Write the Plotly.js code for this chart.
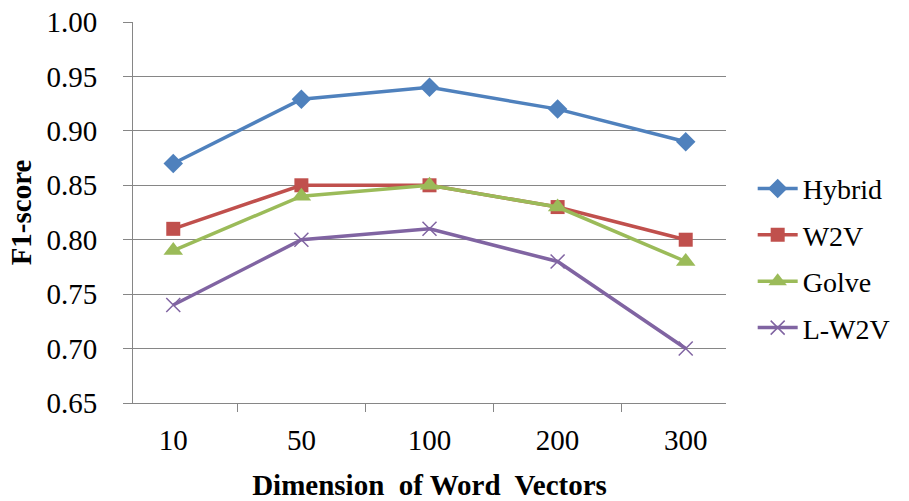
<!DOCTYPE html>
<html>
<head>
<meta charset="utf-8">
<script src="https://cdn.plot.ly/plotly-3.0.1.min.js"></script>
<style>html,body{margin:0;padding:0;background:#fff;}#chart{width:909px;height:501px;}</style>
</head>
<body>
<div id="chart"></div>
<script>
var categories = ["10", "50", "100", "200", "300"];
var seriesNames = ["Hybrid", "W2V", "Golve", "L-W2V"];
var hybrid = [0.87, 0.929, 0.94, 0.92, 0.89];
var w2v = [0.81, 0.85, 0.85, 0.83, 0.80];
var golve = [0.79, 0.84, 0.85, 0.83, 0.78];
var lw2v = [0.74, 0.80, 0.81, 0.78, 0.70];
var yTicks = [0.65, 0.70, 0.75, 0.80, 0.85, 0.90, 0.95, 1.00];

var colors = ["#4F81BD", "#C0504D", "#9BBB59", "#8064A2"];
var symbols = ["diamond", "square", "triangle-up", "x-thin"];
var sizes = [15, 14, 17, 14];
var values = [hybrid, w2v, golve, lw2v];

var traces = values.map(function (v, i) {
  return {
    type: "scatter",
    mode: "lines+markers",
    name: seriesNames[i],
    x: categories,
    y: v,
    legendgroup: "g" + i,
    line: {color: colors[i], width: 3.5},
    marker: {
      symbol: symbols[i],
      size: sizes[i],
      color: colors[i],
      line: {color: colors[i], width: i === 3 ? 1.5 : 0}
    }
  };
});

var font = "Times New Roman, Liberation Serif, DejaVu Serif, serif";
var layout = {
  width: 909,
  height: 501,
  paper_bgcolor: "#fff",
  plot_bgcolor: "#fff",
  margin: {l: 133, r: 183, t: 22, b: 98},
  font: {family: font, color: "#000", size: 29},
  showlegend: true,
  legend: {
    x: 1.045, xanchor: "left", xref: "paper",
    y: 0.38, yanchor: "middle",
    font: {family: font, size: 28, color: "#000"},
    tracegroupgap: 7,
    itemwidth: 40,
    bgcolor: "rgba(0,0,0,0)"
  },
  xaxis: {
    type: "category",
    tickvals: categories,
    ticktext: categories,
    tickson: "boundaries",
    ticks: "outside",
    ticklen: 8,
    tickcolor: "#868686",
    showline: true,
    linecolor: "#868686",
    linewidth: 1,
    showgrid: false,
    zeroline: false,
    ticklabelstandoff: 11,
    tickfont: {family: font, size: 29, color: "#000"},
    title: {text: "<b>Dimension  of Word  Vectors</b>", font: {family: font, size: 29, color: "#000"}, standoff: 20},
    automargin: false
  },
  yaxis: {
    range: [0.65, 1.0],
    tickvals: yTicks,
    tickformat: ".2f",
    ticks: "outside",
    ticklen: 9,
    tickcolor: "#868686",
    showline: true,
    linecolor: "#868686",
    linewidth: 1,
    showgrid: true,
    gridcolor: "#868686",
    gridwidth: 1,
    zeroline: false,
    ticklabelstandoff: 20,
    tickfont: {family: font, size: 29, color: "#000"},
    title: {text: "<b>F1-score</b>", font: {family: font, size: 29, color: "#000"}, standoff: 6},
    automargin: false
  }
};

Plotly.newPlot("chart", traces, layout, {displayModeBar: false, staticPlot: true});
</script>
</body>
</html>
